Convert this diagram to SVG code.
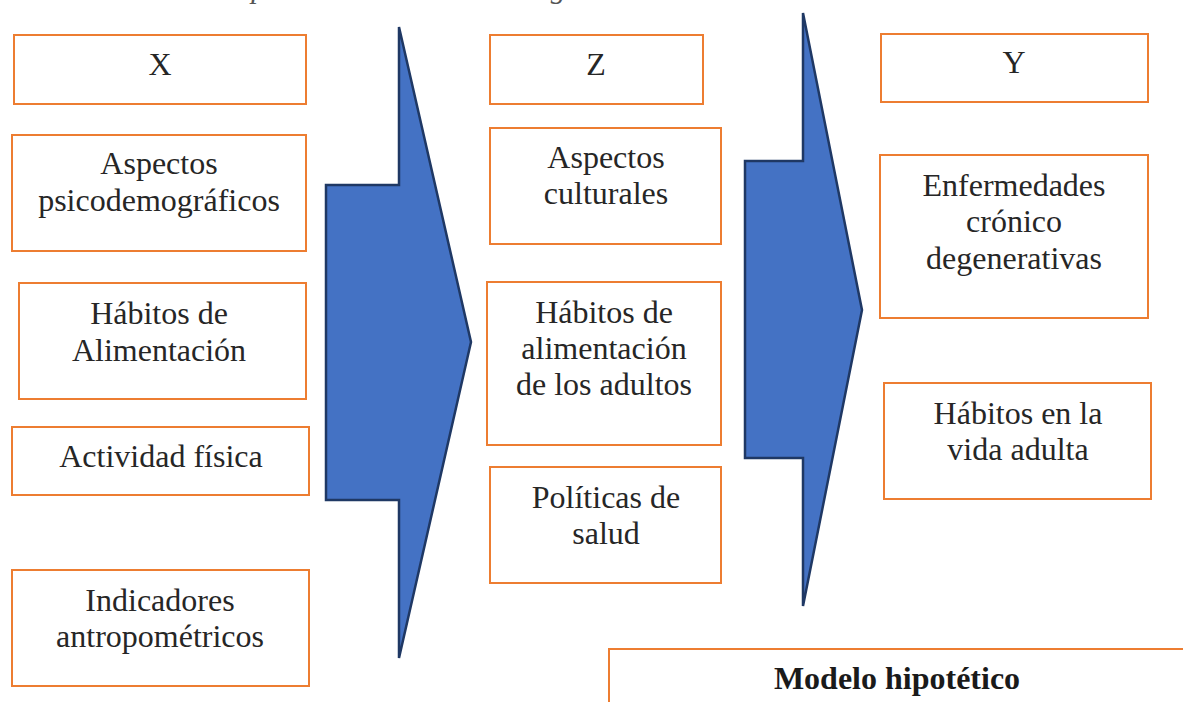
<svg xmlns="http://www.w3.org/2000/svg" width="1183" height="702" viewBox="0 0 1183 702">
<style>
.box{fill:#fff;stroke:#ED7D31;stroke-width:2}
.t{font-family:"Liberation Serif","Times New Roman",serif;font-size:32px;fill:#262626;text-anchor:middle}
.b{font-weight:bold;fill:#1a1a1a}
.arrow{fill:#4472C4;stroke:#1F3864;stroke-width:2.5;stroke-linejoin:miter}
.cap{font-family:"Liberation Serif","Times New Roman",serif;font-size:30px;font-style:italic;fill:#555}
</style>
<rect width="1183" height="702" fill="#fff"/>
<text class="cap" x="108" y="-2" textLength="536">Modelo hipotético de la investigación</text>
<g id="connectors">
<polygon class="arrow" points="399,27 471,342 399,658 399,500 326,500 326,185 399,185"/>
<polygon class="arrow" points="803,13 862,310 803,606 803,458 745,458 745,161 803,161"/>
</g>
<g id="nX"><rect class="box" x="14" y="35" width="292" height="69"/><text class="t" x="160" y="75">X</text></g>
<g id="nAsp"><rect class="box" x="12" y="135" width="294" height="116"/><text class="t" x="159" y="174">Aspectos</text><text class="t" x="159" y="211">psicodemográficos</text></g>
<g id="nHab"><rect class="box" x="19" y="283" width="287" height="116"/><text class="t" x="159" y="324">Hábitos de</text><text class="t" x="159" y="361">Alimentación</text></g>
<g id="nAct"><rect class="box" x="12" y="427" width="297" height="68"/><text class="t" x="161" y="467">Actividad física</text></g>
<g id="nInd"><rect class="box" x="12" y="570" width="297" height="116"/><text class="t" x="160" y="611">Indicadores</text><text class="t" x="160" y="647">antropométricos</text></g>
<g id="nZ"><rect class="box" x="490" y="35" width="213" height="69"/><text class="t" x="596" y="75">Z</text></g>
<g id="nCul"><rect class="box" x="490" y="128" width="231" height="116"/><text class="t" x="606" y="168">Aspectos</text><text class="t" x="606" y="204">culturales</text></g>
<g id="nHabA"><rect class="box" x="487" y="282" width="234" height="163"/><text class="t" x="604" y="323">Hábitos de</text><text class="t" x="604" y="359">alimentación</text><text class="t" x="604" y="395">de los adultos</text></g>
<g id="nPol"><rect class="box" x="490" y="467" width="231" height="116"/><text class="t" x="606" y="508">Políticas de</text><text class="t" x="606" y="544">salud</text></g>
<g id="nY"><rect class="box" x="881" y="34" width="267" height="68"/><text class="t" x="1014" y="73">Y</text></g>
<g id="nEnf"><rect class="box" x="880" y="155" width="268" height="163"/><text class="t" x="1014" y="196">Enfermedades</text><text class="t" x="1014" y="232">crónico</text><text class="t" x="1014" y="269">degenerativas</text></g>
<g id="nVida"><rect class="box" x="884" y="383" width="267" height="116"/><text class="t" x="1018" y="424">Hábitos en la</text><text class="t" x="1018" y="460">vida adulta</text></g>
<g id="nModelo"><rect class="box" x="609" y="649" width="600" height="80"/><text class="t b" x="897" y="689">Modelo hipotético</text></g>
</svg>
